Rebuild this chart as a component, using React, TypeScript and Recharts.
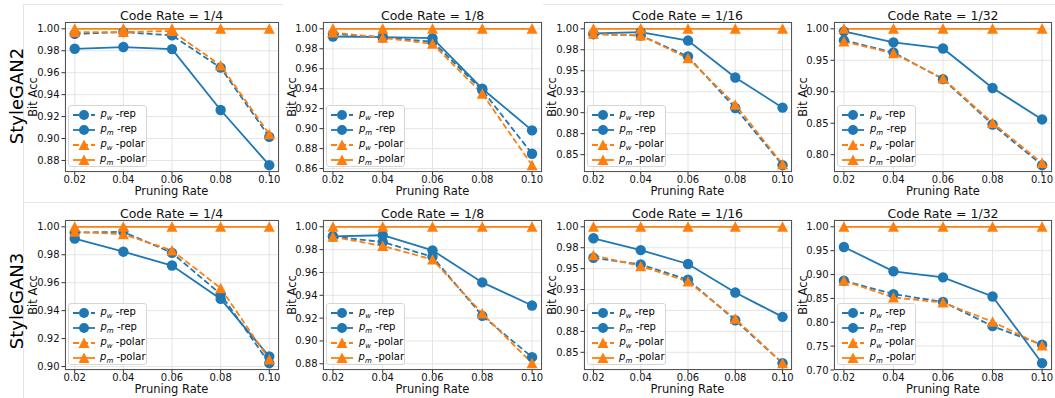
import React from "react";
import { CartesianGrid, Line, LineChart, XAxis, YAxis } from "recharts";

const pruningRates = [0.02, 0.04, 0.06, 0.08, 0.1];
const xTickLabels = ["0.02", "0.04", "0.06", "0.08", "0.10"];
const codeRates = ["1/4", "1/8", "1/16", "1/32"];
const generators = ["StyleGAN2", "StyleGAN3"];

// StyleGAN2
const sg2R4PwRep = [0.9954, 0.997, 0.994, 0.9646, 0.9015];
const sg2R4PmRep = [0.9818, 0.9834, 0.9815, 0.926, 0.8757];
const sg2R4PwPolar = [0.997, 0.997, 0.998, 0.9665, 0.904];

const sg2R8PwRep = [0.995, 0.9916, 0.987, 0.9386, 0.8748];
const sg2R8PmRep = [0.9923, 0.9916, 0.9906, 0.94, 0.8983];
const sg2R8PwPolar = [0.9963, 0.991, 0.985, 0.935, 0.8634];

const sg2R16PwRep = [0.9936, 0.992, 0.967, 0.9056, 0.8374];
const sg2R16PmRep = [0.9944, 0.996, 0.986, 0.942, 0.906];
const sg2R16PwPolar = [0.994, 0.992, 0.965, 0.9096, 0.8386];

const sg2R32PwRep = [0.9817, 0.9624, 0.92, 0.848, 0.7833];
const sg2R32PmRep = [0.996, 0.9785, 0.9688, 0.906, 0.856];
const sg2R32PwPolar = [0.98, 0.961, 0.921, 0.8505, 0.7866];

// StyleGAN3
const sg3R4PwRep = [0.9959, 0.9964, 0.9814, 0.9518, 0.9024];
const sg3R4PmRep = [0.9916, 0.9822, 0.9723, 0.9484, 0.9072];
const sg3R4PwPolar = [0.9964, 0.9947, 0.9831, 0.9561, 0.905];

const sg3R8PwRep = [0.9914, 0.9867, 0.9737, 0.922, 0.8858];
const sg3R8PmRep = [0.9917, 0.9926, 0.9794, 0.9513, 0.931];
const sg3R8PwPolar = [0.9912, 0.9832, 0.9714, 0.924, 0.8805];

const sg3R16PwRep = [0.963, 0.955, 0.9367, 0.8883, 0.837];
const sg3R16PmRep = [0.9863, 0.9722, 0.9556, 0.9214, 0.8923];
const sg3R16PwPolar = [0.966, 0.953, 0.9347, 0.89, 0.837];

const sg3R32PwRep = [0.887, 0.8589, 0.8426, 0.7918, 0.753];
const sg3R32PmRep = [0.9577, 0.9068, 0.8941, 0.8539, 0.7142];
const sg3R32PwPolar = [0.887, 0.852, 0.8412, 0.801, 0.751];

const pmPolar = [1, 1, 1, 1, 1];

// y ticks and their printed labels
const ticksA = [0.88, 0.9, 0.92, 0.94, 0.96, 0.98, 1.0];
const labelsA = ["0.88", "0.90", "0.92", "0.94", "0.96", "0.98", "1.00"];
const ticksB = [0.86, 0.88, 0.9, 0.92, 0.94, 0.96, 0.98, 1.0];
const labelsB = ["0.86", "0.88", "0.90", "0.92", "0.94", "0.96", "0.98", "1.00"];
const ticksC = [0.85, 0.875, 0.9, 0.925, 0.95, 0.975, 1.0];
const labelsC = ["0.85", "0.88", "0.90", "0.93", "0.95", "0.98", "1.00"];
const ticksD = [0.8, 0.85, 0.9, 0.95, 1.0];
const labelsD = ["0.80", "0.85", "0.90", "0.95", "1.00"];
const ticksE = [0.9, 0.92, 0.94, 0.96, 0.98, 1.0];
const labelsE = ["0.90", "0.92", "0.94", "0.96", "0.98", "1.00"];
const ticksF = [0.7, 0.75, 0.8, 0.85, 0.9, 0.95, 1.0];
const labelsF = ["0.70", "0.75", "0.80", "0.85", "0.90", "0.95", "1.00"];

const C0 = "#1f77b4";
const C1 = "#ff7f0e";

const colBox = [
  [64.5, 278.5],
  [323, 542],
  [583.5, 791.5],
  [834, 1052],
];
const rowTop = [22, 220];
const boxH = 150;
const yAxisW = 50;

const panels = [
  { row: 0, col: 0, pw: sg2R4PwRep, pm: sg2R4PmRep, pp: sg2R4PwPolar, ticks: ticksA, labels: labelsA },
  { row: 0, col: 1, pw: sg2R8PwRep, pm: sg2R8PmRep, pp: sg2R8PwPolar, ticks: ticksB, labels: labelsB },
  { row: 0, col: 2, pw: sg2R16PwRep, pm: sg2R16PmRep, pp: sg2R16PwPolar, ticks: ticksC, labels: labelsC },
  { row: 0, col: 3, pw: sg2R32PwRep, pm: sg2R32PmRep, pp: sg2R32PwPolar, ticks: ticksD, labels: labelsD },
  { row: 1, col: 0, pw: sg3R4PwRep, pm: sg3R4PmRep, pp: sg3R4PwPolar, ticks: ticksE, labels: labelsE },
  { row: 1, col: 1, pw: sg3R8PwRep, pm: sg3R8PmRep, pp: sg3R8PwPolar, ticks: ticksA, labels: labelsA },
  { row: 1, col: 2, pw: sg3R16PwRep, pm: sg3R16PmRep, pp: sg3R16PwPolar, ticks: ticksC, labels: labelsC },
  { row: 1, col: 3, pw: sg3R32PwRep, pm: sg3R32PmRep, pp: sg3R32PwPolar, ticks: ticksF, labels: labelsF },
];

const circleDot = (color: string) => (p: any) =>
  p.cx == null ? <g key={`c${p.index}`} /> : <circle key={`c${p.index}`} cx={p.cx} cy={p.cy} r={5.2} fill={color} />;

const triDot = (color: string) => (p: any) =>
  p.cx == null ? (
    <g key={`t${p.index}`} />
  ) : (
    <polygon
      key={`t${p.index}`}
      points={`${p.cx},${p.cy - 5.5} ${p.cx - 5.5},${p.cy + 5} ${p.cx + 5.5},${p.cy + 5}`}
      fill={color}
    />
  );

const legendItems = [
  { sub: "w", name: "-rep", color: C0, dash: true, marker: "o" },
  { sub: "m", name: "-rep", color: C0, dash: false, marker: "o" },
  { sub: "w", name: "-polar", color: C1, dash: true, marker: "^" },
  { sub: "m", name: "-polar", color: C1, dash: false, marker: "^" },
];

function LegendBox({ left, top }: { left: number; top: number }) {
  return (
    <div
      style={{
        position: "absolute",
        left,
        top,
        width: 79,
        height: 62,
        border: "1px solid #d6d6d6",
        borderRadius: 3,
        background: "rgba(255,255,255,0.85)",
        fontSize: 10,
        paddingTop: 1,
        boxSizing: "border-box",
      }}
    >
      {legendItems.map((it, i) => (
        <div key={i} style={{ display: "flex", alignItems: "center", height: 15 }}>
          <svg width={26} height={12} style={{ marginLeft: 3 }}>
            <line x1={1} y1={6} x2={23} y2={6} stroke={it.color} strokeWidth={1.8} strokeDasharray={it.dash ? "6 3" : undefined} />
            {it.marker === "o" ? (
              <circle cx={12} cy={6} r={5} fill={it.color} />
            ) : (
              <polygon points="12,0.5 6.5,11 17.5,11" fill={it.color} />
            )}
          </svg>
          <span style={{ marginLeft: 3, whiteSpace: "nowrap" }}>
            <i>p</i>
            <sub style={{ fontSize: 7, fontStyle: "italic" }}>{it.sub}</sub> {it.name}
          </span>
        </div>
      ))}
    </div>
  );
}

function Panel({ cfg }: { cfg: (typeof panels)[number] }) {
  const [left, right] = colBox[cfg.col];
  const top = rowTop[cfg.row];
  const boxW = right - left;
  const rows = pruningRates.map((r, i) => ({
    rate: r,
    pwRep: cfg.pw[i],
    pmRep: cfg.pm[i],
    pwPolar: cfg.pp[i],
    pmPolar: pmPolar[i],
  }));
  const all = [...cfg.pw, ...cfg.pm, ...cfg.pp, ...pmPolar];
  const lo = Math.min(...all);
  const hi = Math.max(...all);
  const pad = (hi - lo) * 0.05;
  const tickStyle = { fontSize: 10, fill: "#111" };

  return (
    <>
      <div
        style={{
          position: "absolute",
          left: left,
          width: boxW,
          top: top - 13,
          textAlign: "center",
          fontSize: 12.5,
          lineHeight: "14px",
          color: "#111",
        }}
      >
        Code Rate = {codeRates[cfg.col]}
      </div>
      <div style={{ position: "absolute", left: left - yAxisW, top: top - 22 }}>
        <LineChart
          width={boxW + yAxisW + 4}
          height={22 + boxH + 30}
          data={rows}
          margin={{ top: 22, right: 4, bottom: 0, left: 0 }}
        >
          <CartesianGrid stroke="#dedede" strokeWidth={0.8} />
          <XAxis
            dataKey="rate"
            type="number"
            domain={[0.016, 0.104]}
            allowDataOverflow
            ticks={pruningRates}
            tickFormatter={(v: number) => xTickLabels[pruningRates.indexOf(v)] ?? ""}
            tick={tickStyle}
            tickSize={3.5}
            tickMargin={0}
            tickLine={{ stroke: "#333" }}
            axisLine={false}
            height={30}
            interval={0}
          />
          <YAxis
            type="number"
            domain={[lo - pad, hi + pad]}
            allowDataOverflow
            ticks={cfg.ticks}
            tickFormatter={(v: number) => cfg.labels[cfg.ticks.indexOf(v)] ?? ""}
            tick={tickStyle}
            tickSize={3.5}
            tickMargin={2}
            tickLine={{ stroke: "#333" }}
            axisLine={false}
            width={yAxisW}
            interval={0}
          />
          <Line
            dataKey="pwRep"
            stroke={C0}
            strokeWidth={1.8}
            strokeDasharray="6 3"
            dot={circleDot(C0)}
            activeDot={false}
            isAnimationActive={false}
          />
          <Line dataKey="pmRep" stroke={C0} strokeWidth={1.8} dot={circleDot(C0)} activeDot={false} isAnimationActive={false} />
          <Line
            dataKey="pwPolar"
            stroke={C1}
            strokeWidth={1.8}
            strokeDasharray="6 3"
            dot={triDot(C1)}
            activeDot={false}
            isAnimationActive={false}
          />
          <Line dataKey="pmPolar" stroke={C1} strokeWidth={1.8} dot={triDot(C1)} activeDot={false} isAnimationActive={false} />
        </LineChart>
      </div>
      <div
        style={{
          position: "absolute",
          left,
          top,
          width: boxW,
          height: boxH,
          border: "1px solid #555",
          boxSizing: "border-box",
          pointerEvents: "none",
        }}
      />
      <LegendBox left={left + 3} top={top + boxH - 67} />
      <div
        style={{
          position: "absolute",
          left: left - 31.5,
          top: top + boxH / 2,
          transform: "translate(-50%, -50%) rotate(-90deg)",
          fontSize: 11.5,
          lineHeight: "12px",
          whiteSpace: "nowrap",
          color: "#111",
        }}
      >
        Bit Acc
      </div>
      <div
        style={{
          position: "absolute",
          left,
          width: boxW,
          top: top + boxH + 13,
          textAlign: "center",
          fontSize: 11.5,
          lineHeight: "12px",
          color: "#111",
        }}
      >
        Pruning Rate
      </div>
    </>
  );
}

export default function App() {
  return (
    <div
      style={{
        position: "absolute",
        left: 0,
        top: 0,
        width: 1055,
        height: 398,
        background: "#fff",
        fontFamily: "'DejaVu Sans', sans-serif",
        color: "#000",
        overflow: "hidden",
      }}
    >
      {/* faint sub-figure frame lines */}
      <div style={{ position: "absolute", left: 23, top: 4, width: 260, height: 0, borderTop: "1px solid #e6e6e6" }} />
      <div style={{ position: "absolute", left: 543, top: 4, width: 512, height: 0, borderTop: "1px solid #e6e6e6" }} />
      <div style={{ position: "absolute", left: 23, top: 202, width: 1032, height: 0, borderTop: "1px solid #e6e6e6" }} />
      <div style={{ position: "absolute", left: 23, top: 4, width: 0, height: 394, borderLeft: "1px solid #e6e6e6" }} />

      {panels.map((p, i) => (
        <Panel key={i} cfg={p} />
      ))}

      {generators.map((g, i) => (
        <div
          key={g}
          style={{
            position: "absolute",
            left: 16.5,
            top: i === 0 ? 96 : 301,
            transform: "translate(-50%, -50%) rotate(-90deg)",
            fontSize: 18,
            lineHeight: "20px",
            whiteSpace: "nowrap",
          }}
        >
          {g}
        </div>
      ))}
    </div>
  );
}
